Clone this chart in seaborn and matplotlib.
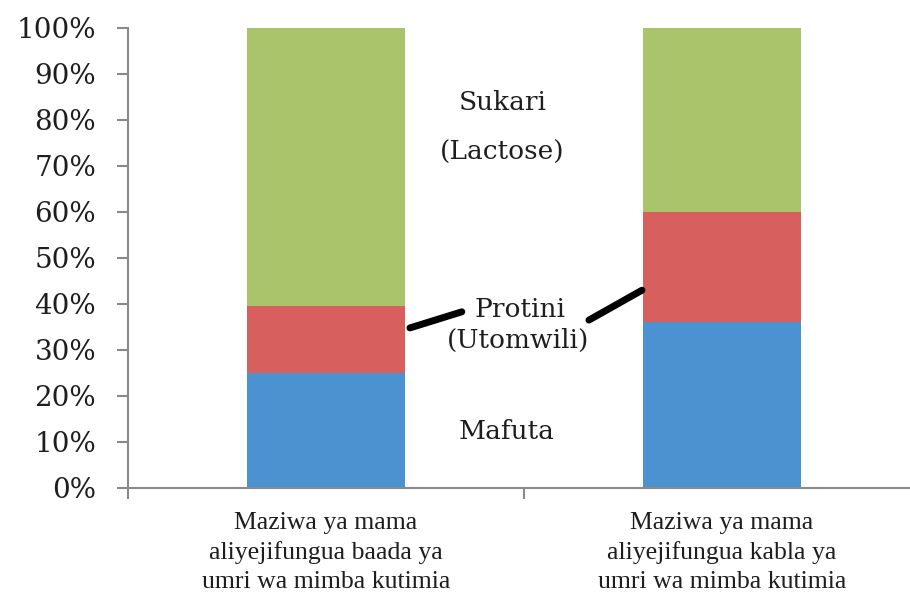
import matplotlib
matplotlib.use("Agg")
import matplotlib.pyplot as plt
import seaborn as sns
import pandas as pd
import numpy as np

# ---- data ----
categories = [
    "Maziwa ya mama\naliyejifungua baada ya\numri wa mimba kutimia",
    "Maziwa ya mama\naliyejifungua kabla ya\numri wa mimba kutimia",
]
mafuta = [25.0, 36.0]      # blue
protini = [14.5, 24.0]     # red
sukari = [60.5, 40.0]      # green
yticks = [0, 10, 20, 30, 40, 50, 60, 70, 80, 90, 100]
ytick_labels = [f"{v}%" for v in yticks]

col_blue = "#4b93d0"
col_red = "#d7605f"
col_green = "#a9c46a"
txt = "#1e1e1e"

sns.set_style("white")
plt.rcParams["font.family"] = ["DejaVu Serif"]

fig = plt.figure(figsize=(9.10, 5.92), dpi=100)
ax = fig.add_axes([128 / 910, 1 - 488 / 592, 792 / 910, 460 / 592])

df = pd.DataFrame({
    "cat": categories,
    "blue": mafuta,
    "red": np.array(mafuta) + np.array(protini),
    "green": np.array(mafuta) + np.array(protini) + np.array(sukari),
})

for colname, c in [("green", col_green), ("red", col_red), ("blue", col_blue)]:
    sns.barplot(data=df, x="cat", y=colname, color=c, width=0.40,
                saturation=1, ax=ax, linewidth=0, edgecolor="none")

ax.set_xlim(-0.5, 1.5)
ax.set_ylim(0, 100)
ax.set_xlabel("")
ax.set_ylabel("")

ax.set_yticks(yticks)
ax.set_yticklabels(ytick_labels, fontsize=20, color=txt, family="DejaVu Serif")
ax.tick_params(axis="y", direction="out", length=8, width=1.5, color="#8a8a8a", pad=15, left=True)

ax.set_xticks([0, 1])
ax.set_xticklabels(categories, fontsize=18.5, color=txt, linespacing=1.42,
                   family="Liberation Serif")
ax.tick_params(axis="x", length=0, pad=17)
ax.set_xticks([-0.5, 0.5, 1.5], minor=True)
ax.tick_params(axis="x", which="minor", direction="out", length=8, width=1.5, color="#8a8a8a", bottom=True)

for s in ["top", "right"]:
    ax.spines[s].set_visible(False)
for s in ["left", "bottom"]:
    ax.spines[s].set_color("#8a8a8a")
    ax.spines[s].set_linewidth(1.5)

fs = 19
ax.text(0.447, 83.9, "Sukari", ha="center", va="center", fontsize=fs, color=txt)
ax.text(0.444, 73.0, "(Lactose)", ha="center", va="center", fontsize=fs, color=txt)
ax.text(0.49, 38.8, "Protini", ha="center", va="center", fontsize=fs, color=txt)
ax.text(0.485, 32.0, "(Utomwili)", ha="center", va="center", fontsize=fs, color=txt)
ax.text(0.457, 12.2, "Mafuta", ha="center", va="center", fontsize=fs, color=txt)

ax.plot([0.212, 0.343], [34.8, 38.3], color="black", lw=5, solid_capstyle="round", clip_on=False)
ax.plot([0.664, 0.798], [36.5, 43.0], color="black", lw=5, solid_capstyle="round", clip_on=False)

fig.savefig("out.png", dpi=100)
